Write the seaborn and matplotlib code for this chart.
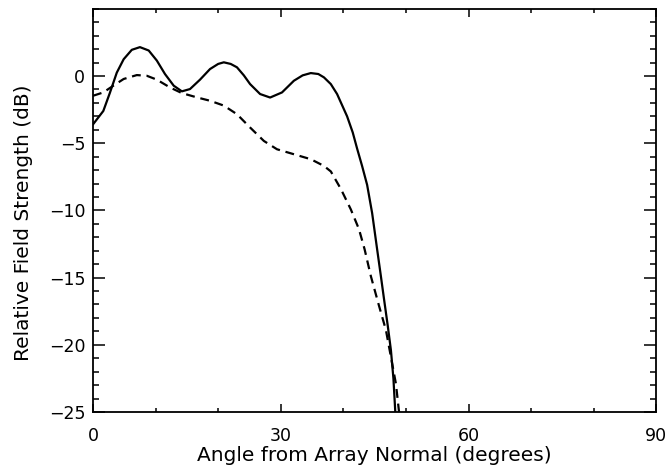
import numpy as np
import pandas as pd
import matplotlib
matplotlib.use("Agg")
import matplotlib.pyplot as plt
import seaborn as sns
from matplotlib.ticker import MultipleLocator

sns.set_style('ticks')
plt.rcParams['font.family'] = ['DejaVu Sans']

# solid curve (angle in degrees, relative field in dB)
ang_solid = [0, 1.65, 2.7, 3.8, 4.9, 6.2, 7.5, 8.9, 10.2, 11.5, 12.9, 14.2, 15.5,
             17.1, 18.7, 20.0, 20.9, 22.0, 23.0, 24.1, 25.1, 26.7, 28.3, 30.2,
             32.1, 33.5, 34.8, 36.0, 36.9, 38.0, 39.0, 40.6, 41.5, 42.2, 43.0,
             43.8, 44.6, 45.4, 46.0, 46.5, 47.1, 47.6, 48.0, 48.3]
db_solid = [-3.6, -2.6, -1.25, 0.25, 1.25, 1.95, 2.15, 1.9, 1.15, 0.15, -0.72, -1.14, -0.97,
            -0.27, 0.52, 0.9, 1.02, 0.9, 0.65, 0.05, -0.6, -1.34, -1.6, -1.22,
            -0.35, 0.05, 0.22, 0.15, -0.1, -0.6, -1.34, -3.0, -4.2, -5.4, -6.7,
            -8.1, -10.2, -12.9, -14.9, -16.6, -18.6, -20.4, -22.5, -25.0]

# dashed curve
ang_dash = [0, 1.65, 3.25, 4.9, 7.0, 8.6, 10.2, 12.3, 14.2, 16.6, 18.7, 20.9, 23.0,
            25.1, 27.3, 29.4, 32.1, 34.8, 36.9, 38.0, 39.6, 41.2, 42.5, 43.4,
            44.4, 45.7, 46.8, 47.6, 48.4, 48.9]
db_dash = [-1.47, -1.22, -0.72, -0.22, 0.07, 0.02, -0.27, -0.85, -1.27, -1.59, -1.84, -2.2, -2.84,
           -3.83, -4.83, -5.45, -5.82, -6.19, -6.69, -7.1, -8.4, -9.93, -11.4, -12.9,
           -14.9, -17.1, -18.9, -20.9, -22.9, -25.0]

df_s = pd.DataFrame({"angle": ang_solid, "db": db_solid})
df_d = pd.DataFrame({"angle": ang_dash, "db": db_dash})

fig, ax = plt.subplots(figsize=(6.69, 4.65), dpi=100)
fig.subplots_adjust(left=0.139, right=0.981, bottom=0.114, top=0.981)

sns.lineplot(data=df_s, x="angle", y="db", sort=False, color="black", lw=1.6, ax=ax,
             solid_joinstyle="round")
sns.lineplot(data=df_d, x="angle", y="db", sort=False, color="black", lw=1.6, ax=ax,
             linestyle=(0, (4, 2.6)))

ax.set_xlim(0, 90)
ax.set_ylim(-25, 5)
ax.xaxis.set_major_locator(MultipleLocator(30))
ax.xaxis.set_minor_locator(MultipleLocator(10))
ax.set_yticks([-25, -20, -15, -10, -5, 0])
ax.yaxis.set_minor_locator(MultipleLocator(1))
ax.tick_params(which='both', direction='in', top=True, right=True, labelsize=12.5,
               width=1.1, colors='black')
ax.tick_params(axis='x', which='major', length=6.1, pad=10.5)
ax.tick_params(axis='x', which='minor', length=3)
ax.tick_params(axis='y', which='major', length=8.6, pad=5.5)
ax.tick_params(axis='y', which='minor', length=4.3)
for sp in ax.spines.values():
    sp.set_linewidth(1.3)
    sp.set_color('black')

ax.set_xlabel("Angle from Array Normal (degrees)", fontsize=14.5, color='black')
ax.set_ylabel("Relative Field Strength (dB)", fontsize=14.5, color='black')
ax.xaxis.set_label_coords(0.5, -0.084)
ax.yaxis.set_label_coords(-0.107, 0.469)

fig.savefig("out.png", dpi=100)
